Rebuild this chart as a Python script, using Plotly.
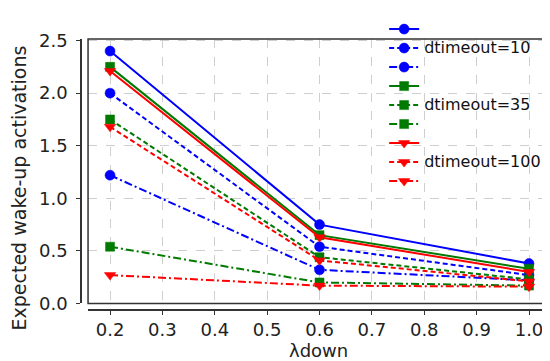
import plotly.graph_objects as go

# ---- data ----
lam_down = [0.2, 0.6, 1.0]

d10_solid = [2.40, 0.75, 0.38]
d10_dash = [2.00, 0.54, 0.27]
d10_dashdot = [1.22, 0.32, 0.22]

d35_solid = [2.25, 0.65, 0.33]
d35_dash = [1.75, 0.44, 0.23]
d35_dashdot = [0.54, 0.20, 0.17]

d100_solid = [2.21, 0.63, 0.30]
d100_dash = [1.68, 0.41, 0.21]
d100_dashdot = [0.27, 0.17, 0.16]

labels = ["dtimeout=10", "dtimeout=35", "dtimeout=100"]
x_ticks = [0.2, 0.3, 0.4, 0.5, 0.6, 0.7, 0.8, 0.9, 1.0]
y_ticks = [0.0, 0.5, 1.0, 1.5, 2.0, 2.5]

groups = [
    (labels[0], [d10_solid, d10_dash, d10_dashdot], "#0000FF", "circle", 10),
    (labels[1], [d35_solid, d35_dash, d35_dashdot], "#007A00", "square", 9),
    (labels[2], [d100_solid, d100_dash, d100_dashdot], "#FF0000", "triangle-down", 10),
]
dashes = ["solid", "5px,3px", "8px,3px,2px,3px"]

FONT = "DejaVu Sans"
fig = go.Figure()
for gi, (name, ys, color, sym, msize) in enumerate(groups):
    for k, y in enumerate(ys):
        fig.add_trace(go.Scatter(
            x=lam_down, y=y, mode="lines+markers",
            name=(f'<span style="font-size:16px">{name}</span>' if k == 1 else " "),
            legendgroup=f"g{gi}",
            line=dict(color=color, width=2, dash=dashes[k]),
            marker=dict(symbol=sym, size=msize, color=color,
                        line=dict(color=color, width=0.5)),
        ))

fig.update_layout(
    width=550, height=361,
    margin=dict(l=73, r=7, t=10, b=59),
    paper_bgcolor="white", plot_bgcolor="white",
    font=dict(family=FONT, size=18, color="#222"),
    legend=dict(x=0.645, y=1.09, xanchor="left", yanchor="top",
                bgcolor="rgba(0,0,0,0)", tracegroupgap=0,
                font=dict(family=FONT, size=12, color="#111"),
                itemwidth=30),
    showlegend=True,
)
fig.update_xaxes(
    domain=[0.015, 1], range=[0.158, 1.042],
    tickvals=x_ticks, ticktext=[f"{v:.1f}" for v in x_ticks],
    anchor="free", position=0,
    showline=True, linecolor="#333", linewidth=1.5,
    ticks="outside", ticklen=4, tickcolor="#333",
    showgrid=True, gridcolor="#cfcfcf", griddash="dash", gridwidth=1,
    zeroline=False,
    tickfont=dict(family=FONT, size=18),
)
fig.update_yaxes(
    domain=[0.024, 1], range=[0, 2.515],
    tickvals=y_ticks, ticktext=[f"{v:.1f}" for v in y_ticks],
    anchor="free", position=0,
    showline=True, linecolor="#333", linewidth=1.5,
    ticks="outside", ticklen=4, tickcolor="#333",
    ticklabelstandoff=5,
    showgrid=True, gridcolor="#cfcfcf", griddash="dash", gridwidth=1,
    zeroline=False,
    tickfont=dict(family=FONT, size=18),
)
fig.add_shape(type="rect", xref="x domain", yref="y domain",
              x0=0, x1=1, y0=0, y1=1,
              line=dict(color="#333", width=1.5), layer="above")

# axis titles
fig.add_annotation(text="Expected wake-up activations", textangle=-90,
                   xref="paper", yref="paper", x=-0.132, y=0.452,
                   xanchor="center", yanchor="middle",
                   showarrow=False, font=dict(family=FONT, size=19, color="#222"))
fig.add_annotation(text="λdown", xref="paper", yref="paper",
                   x=0.505, y=-0.148, xanchor="center", yanchor="middle",
                   showarrow=False, font=dict(family=FONT, size=18, color="#222"))

fig.write_html("out.html")
